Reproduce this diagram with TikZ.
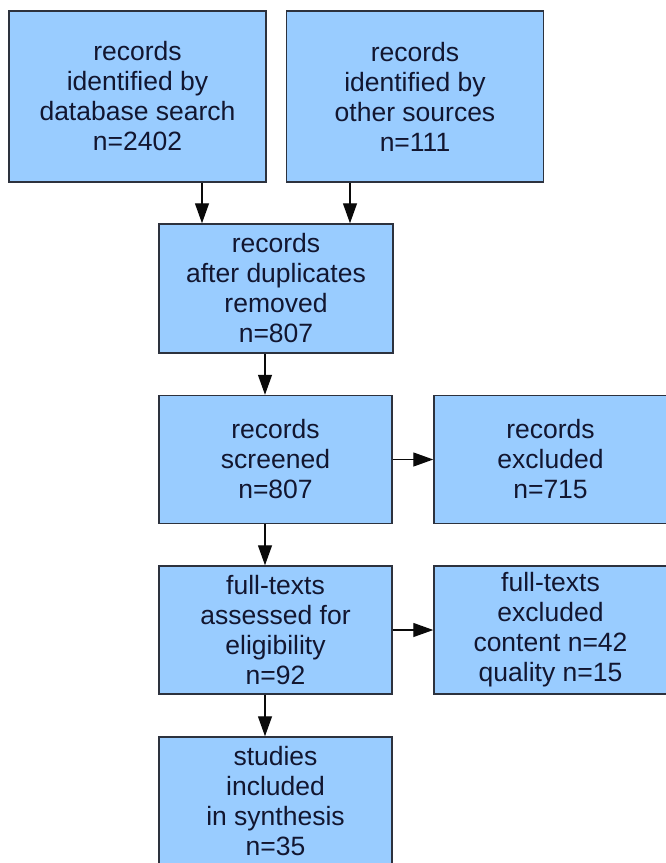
\documentclass[tikz,border=0pt]{standalone}
\usepackage{fontspec}
\setmainfont{Liberation Sans}
\usetikzlibrary{
    arrows.meta,
    positioning,
    calc
}
\definecolor{bgWhite}{RGB}{255, 255, 255}
\definecolor{boxBlue}{RGB}{153, 204, 255}
\definecolor{borderDark}{RGB}{45, 50, 62}
\definecolor{textNavy}{RGB}{18, 22, 48}
\definecolor{arrowBlack}{RGB}{10, 10, 10}
\tikzset{
    flowBox/.style={
        rectangle,
        fill=boxBlue,
        draw=borderDark,
        line width=1.5pt,
        text=textNavy,
        align=center,
        inner sep=0pt,
        font=\fontsize{26.5}{30}\selectfont
    },
    % Box sizes
    wideBox/.style={
        flowBox,
        minimum width=257pt,
        minimum height=171pt
    },
    stepBox/.style={
        flowBox,
        minimum width=233pt,
        minimum height=128pt
    },
    flowArrow/.style={
        draw=arrowBlack,
        line width=1.3pt,
        -{Triangle[length=20pt, width=14pt]}
    }
}

\begin{document}
\begin{tikzpicture}[x=1pt, y=-1pt]
    \useasboundingbox (0,0) rectangle (665, 863);
    \fill[bgWhite] (0,0) rectangle (665, 863);

    % 1. Identification (Top)
    \node[wideBox] (dbSearch) at (137.5, 96.5) {records\\identified by\\database search\\n=2402};
    \node[wideBox] (otherSrc) at (415, 96.5) {records\\identified by\\other sources\\n=111};

    % 2. Duplicates
    \node[stepBox, minimum width=234pt, minimum height=129pt] (dupRemoved) at (276, 288.5) {records\\after duplicates\\removed\\n=807};

    % 3. Screening
    \node[stepBox] (screened) at (275.5, 459.5) {records\\screened\\n=807};
    \node[stepBox] (excluded) at (550.5, 459.5) {records\\excluded\\n=715};

    % 4. Eligibility
    \node[stepBox] (fullText) at (275.5, 630) {full-texts\\assessed for\\eligibility\\n=92};
    \node[stepBox] (ftExcluded) at (550.5, 630) {full-texts\\excluded\\content n=42\\quality n=15};

    % 5. Included (Bottom)
    \node[stepBox] (included) at (275.5, 801) {studies\\included\\in synthesis\\n=35};

    % Connections
    \draw[flowArrow] ([xshift=64.5pt]dbSearch.south) -- ([xshift=64.5pt]dbSearch.south |- dupRemoved.north);
    \draw[flowArrow] ([xshift=-65pt]otherSrc.south) -- ([xshift=-65pt]otherSrc.south |- dupRemoved.north);
    \draw[flowArrow] ([xshift=-11pt]dupRemoved.south) -- ([xshift=-11pt]dupRemoved.south |- screened.north);
    \draw[flowArrow] ([xshift=-10.5pt]screened.south) -- ([xshift=-10.5pt]screened.south |- fullText.north);
    \draw[flowArrow] ([xshift=-10.5pt]fullText.south) -- ([xshift=-10.5pt]fullText.south |- included.north);
    \draw[flowArrow] (screened) -- (excluded);
    \draw[flowArrow] (fullText) -- (ftExcluded);
\end{tikzpicture}
\end{document}
